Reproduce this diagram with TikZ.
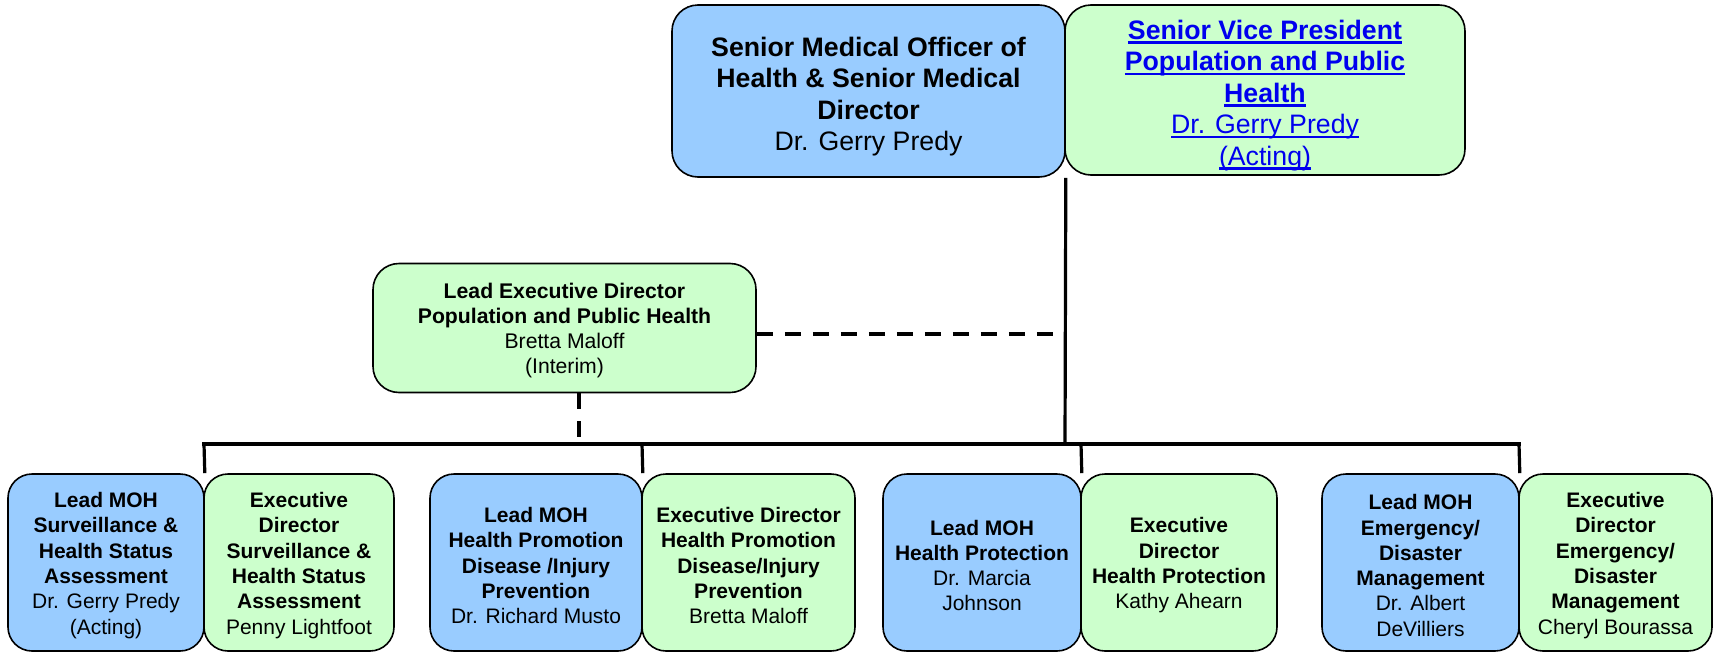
\documentclass[tikz,border=0pt]{standalone}
\usepackage{fontspec}
\setmainfont{Liberation Sans}
\definecolor{boxblue}{HTML}{99CCFF}
\definecolor{boxgreen}{HTML}{CCFFCC}
\definecolor{linkblue}{HTML}{0000EE}
\newsavebox\lnkbox
\newcommand\lnk[1]{\leavevmode\sbox\lnkbox{#1}\rlap{\rule[-0.16em]{\wd\lnkbox}{0.085em}}\usebox\lnkbox}
\begin{document}
\begin{tikzpicture}[x=1pt,y=-1pt,
  orgbox/.style={draw=black,line width=1.6pt,rounded corners=26pt,inner sep=0pt},
  lowbox/.style={orgbox,rounded corners=24pt,minimum height=177pt},
  txt/.style={align=center,inner sep=0pt},
  toptext/.style={txt,font=\fontsize{26.7}{31.5}\selectfont,yshift=-5.5pt},
  midtext/.style={txt,font=\fontsize{21.2}{25}\selectfont,yshift=-3pt},
  lowtext/.style={txt,font=\fontsize{21}{25.3}\selectfont,yshift=-3pt},
  blue/.style={fill=boxblue},
  green/.style={fill=boxgreen},
  solidline/.style={line width=3.2pt},
  dashline/.style={line width=4pt,dash pattern=on 16pt off 12pt}]
\useasboundingbox (0,0) rectangle (1716,656);
% top
\node[orgbox,blue,minimum width=393pt,minimum height=172pt] (smo) at (868.5,91) {};
\node[toptext] (smot) at (smo.center)
  {\textbf{Senior Medical Officer of}\\\textbf{Health \& Senior Medical}\\\textbf{Director}\\Dr. Gerry Predy};
\node[orgbox,green,minimum width=400pt,minimum height=170pt] (svp) at (1265,90) {};
\node[toptext,text=linkblue] (svpt) at (svp.center)
  {\lnk{\textbf{Senior Vice President}}\\\lnk{\textbf{Population and Public}}\\\lnk{\textbf{Health}}\\\lnk{Dr. Gerry Predy}\\\lnk{(Acting)}};
% lead exec
\node[orgbox,green,minimum width=383pt,minimum height=129pt] (led) at (564.5,328) {};
\node[midtext] (ledt) at (led.center)
  {\textbf{Lead Executive Director}\\\textbf{Population and Public Health}\\Bretta Maloff\\(Interim)};
% bottom row
\node[lowbox,blue,minimum width=196pt] (b1) at (106,562.5) {};
\node[lowtext] (b1t) at (b1.center)
  {\textbf{Lead MOH}\\\textbf{Surveillance \&}\\\textbf{Health Status}\\\textbf{Assessment}\\Dr. Gerry Predy\\(Acting)};
\node[lowbox,green,minimum width=190pt] (b2) at (299,562.5) {};
\node[lowtext] (b2t) at (b2.center)
  {\textbf{Executive}\\\textbf{Director}\\\textbf{Surveillance \&}\\\textbf{Health Status}\\\textbf{Assessment}\\Penny Lightfoot};
\node[lowbox,blue,minimum width=212pt] (b3) at (536,562.5) {};
\node[lowtext] (b3t) at (b3.center)
  {\textbf{Lead MOH}\\\textbf{Health Promotion}\\\textbf{Disease /Injury}\\\textbf{Prevention}\\Dr. Richard Musto};
\node[lowbox,green,minimum width=213pt] (b4) at (748.5,562.5) {};
\node[lowtext] (b4t) at (b4.center)
  {\textbf{Executive Director}\\\textbf{Health Promotion}\\\textbf{Disease/Injury}\\\textbf{Prevention}\\Bretta Maloff};
\node[lowbox,blue,minimum width=198pt] (b5) at (982,562.5) {};
\node[lowtext] (b5t) at (b5.center)
  {\textbf{Lead MOH}\\\textbf{Health Protection}\\Dr. Marcia\\Johnson};
\node[lowbox,green,minimum width=196pt] (b6) at (1179,562.5) {};
\node[lowtext] (b6t) at (b6.center)
  {\textbf{Executive}\\\textbf{Director}\\\textbf{Health Protection}\\Kathy Ahearn};
\node[lowbox,blue,minimum width=197pt] (b7) at (1420.5,562.5) {};
\node[lowtext] (b7t) at (b7.center)
  {\textbf{Lead MOH}\\\textbf{Emergency/}\\\textbf{Disaster}\\\textbf{Management}\\Dr. Albert\\DeVilliers};
\node[lowbox,green,minimum width=193pt] (b8) at (1615.5,562.5) {};
\node[lowtext] (b8t) at (b8.center)
  {\textbf{Executive}\\\textbf{Director}\\\textbf{Emergency/}\\\textbf{Disaster}\\\textbf{Management}\\Cheryl Bourassa};
% connectors
\coordinate (bus) at (1065,444);
\coordinate (busL) at (204,444);
\coordinate (busR) at (1519,444);
\coordinate (dashend) at (1053,334);
\draw[solidline] (smo.south east) -- (bus);
\draw[solidline] ([xshift=-1.6pt]busL) -- ([xshift=1.6pt]busR);
\draw[solidline] (busL) -- (b1.north east);
\draw[solidline] (642,444) -- (b3.north east);
\draw[solidline] (1081,444) -- (b5.north east);
\draw[solidline] (busR) -- (b7.north east);
\draw[dashline] (led.east |- dashend) -- (dashend);
\draw[dashline] (led.south) ++(14.5,0) coordinate (ledbot) -- (ledbot |- bus);
\end{tikzpicture}
\end{document}
